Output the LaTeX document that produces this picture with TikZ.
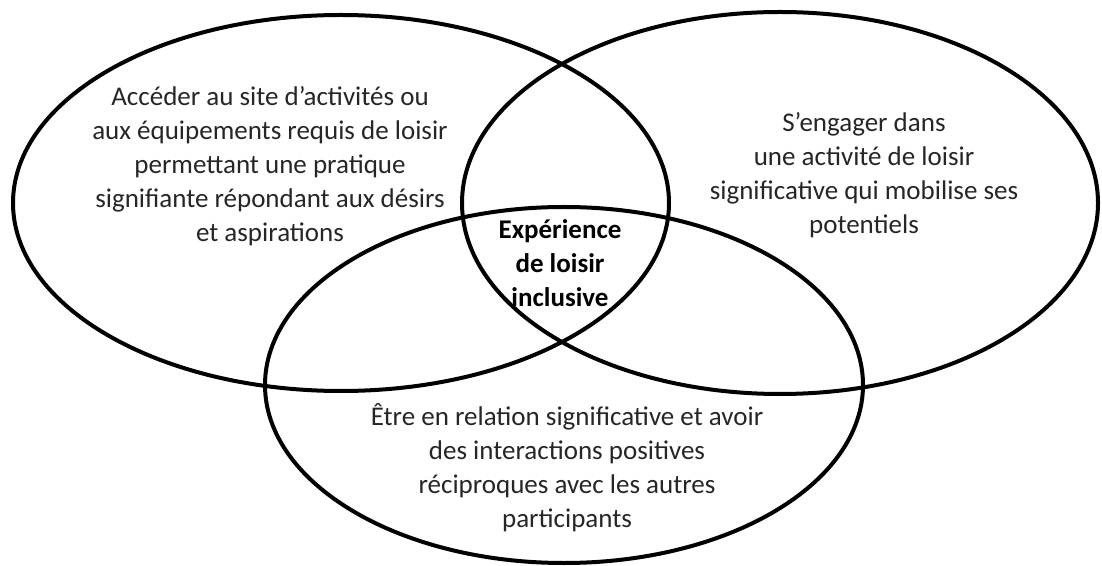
\documentclass[tikz,border=0pt]{standalone}
\usepackage{fontspec}
\setmainfont{Carlito}
\usepackage{tikz}

\begin{document}
\begin{tikzpicture}[
x=0.5pt,y=-0.5pt,
ring/.style={
  draw,
  line width=2pt
  },
txt/.style={
  align=center,
  text=black!85,
  font=\fontsize{13.5}{17}\selectfont
  },
core/.style={
  txt,
  text=black,
  font=\fontsize{13.5}{17}\selectfont\bfseries
  }
]
\useasboundingbox (0,0) rectangle (1102,566);
% the three circles of the diagram
\draw[ring] (341,203) ellipse [x radius=328, y radius=188];
\draw[ring] (780,203) ellipse [x radius=318, y radius=191];
\draw[ring] (564,385) ellipse [x radius=299, y radius=178];
% texts
\node[txt] (acces) at (270,166)
  {Accéder au site d’activités ou\\aux équipements requis de loisir\\permettant une pratique\\signifiante répondant aux désirs\\et aspirations};
\node[txt] (engager) at (864,175)
  {S’engager dans\\une activité de loisir\\significative qui mobilise ses\\potentiels};
\node[txt] (relation) at (567,468)
  {Être en relation significative et avoir\\des interactions positives\\réciproques avec les autres\\participants};
\node[core] (expe) at (560,263)
  {Expérience\\de loisir\\inclusive};
\end{tikzpicture}
\end{document}
